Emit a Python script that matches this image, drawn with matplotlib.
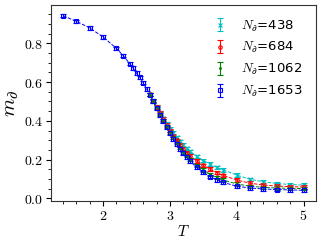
import matplotlib
matplotlib.use('Agg')
import matplotlib.pyplot as plt
import matplotlib.ticker as mticker

plt.rcParams['mathtext.fontset'] = 'cm'

# temperatures
T_blue = [1.4, 1.6, 1.8, 2.0, 2.2, 2.3, 2.4, 2.45, 2.5, 2.55, 2.6, 2.65,
          2.7, 2.75, 2.8, 2.85, 2.9, 2.95, 3.0, 3.05, 3.1, 3.15, 3.2, 3.25,
          3.3, 3.4, 3.5, 3.6, 3.7, 3.8, 4.0, 4.2, 4.4, 4.6, 4.8, 5.0]
T_fin = [2.7, 2.75, 2.8, 2.85, 2.9, 2.95, 3.0, 3.05, 3.1, 3.15, 3.2, 3.25,
         3.3, 3.4, 3.5, 3.6, 3.7, 3.8, 4.0, 4.2, 4.4, 4.6, 4.8, 5.0]

# boundary magnetisation per system size
m_438 = [0.537, 0.505, 0.474, 0.443, 0.413, 0.386, 0.360, 0.337, 0.315,
         0.294, 0.275, 0.258, 0.242, 0.217, 0.195, 0.176, 0.160, 0.146,
         0.120, 0.098, 0.085, 0.076, 0.071, 0.068]
m_684 = [0.537, 0.505, 0.472, 0.440, 0.409, 0.379, 0.350, 0.324, 0.299,
         0.276, 0.255, 0.236, 0.219, 0.192, 0.170, 0.150, 0.133, 0.118,
         0.094, 0.078, 0.068, 0.063, 0.060, 0.058]
m_1062 = [0.536, 0.503, 0.469, 0.436, 0.403, 0.372, 0.342, 0.314, 0.287,
          0.262, 0.240, 0.220, 0.201, 0.170, 0.145, 0.124, 0.107, 0.094,
          0.074, 0.062, 0.056, 0.053, 0.051, 0.050]
m_1653 = [0.943, 0.914, 0.880, 0.833, 0.774, 0.737, 0.695, 0.672, 0.646,
          0.624, 0.597, 0.565, 0.535, 0.500, 0.465, 0.431, 0.398, 0.366,
          0.335, 0.305, 0.279, 0.254, 0.232, 0.211, 0.192, 0.160, 0.134,
          0.112, 0.095, 0.082, 0.062, 0.053, 0.048, 0.045, 0.043, 0.041]
err = 0.009

sizes = ['438', '684', '1062', '1653']

fig = plt.figure(figsize=(3.21, 2.43), dpi=100)
ax = fig.add_axes([0.159, 0.173, 0.824, 0.806])

series = [(T_fin, m_438, 'c', 'x', 'c'),
          (T_fin, m_684, 'r', 'o', 'none'),
          (T_fin, m_1062, 'g', '.', 'g'),
          (T_blue, m_1653, 'b', 's', 'none')]
for (t, m, col, mk, mfc), n in zip(series, sizes):
    # dashed guide line, then error bars with markers
    ax.plot(t, m, color=col, ls='--', lw=0.7)
    ax.errorbar(t, m, yerr=err, color=col, marker=mk, ms=2.5, mfc=mfc,
                mew=0.8, ls='none', elinewidth=0.8, capsize=2.5,
                label=r'$N_\partial$=' + n)

ax.set_xlabel(r'$T$', fontsize=11, labelpad=1)
ax.set_ylabel(r'$m_\partial$', fontsize=15, labelpad=2)

ax.xaxis.set_major_locator(mticker.MultipleLocator(1))
ax.xaxis.set_minor_locator(mticker.MultipleLocator(0.2))
ax.yaxis.set_major_locator(mticker.MultipleLocator(0.2))
ax.yaxis.set_minor_locator(mticker.MultipleLocator(0.05))
ax.xaxis.set_major_formatter(mticker.FormatStrFormatter(r'$%d$'))
ax.yaxis.set_major_formatter(mticker.FormatStrFormatter(r'$%.1f$'))
ax.tick_params(labelsize=10, width=0.8, length=3.5, pad=2)
ax.tick_params(which='minor', length=2, width=0.6)
for s in ax.spines.values():
    s.set_color('#333333')

ax.legend(loc='upper right', frameon=False, fontsize=9.5,
          labelspacing=0.5, handletextpad=1.0, handlelength=1.2,
          borderaxespad=0.6)

plt.savefig('out.png', dpi=100)
